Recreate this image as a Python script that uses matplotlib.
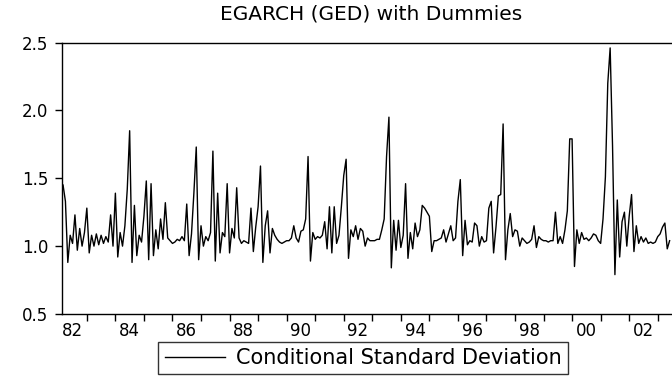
import numpy as np
import matplotlib
matplotlib.use('Agg')
import matplotlib.pyplot as plt

# Conditional standard deviation (monthly, from 1981:09)
sd_1981_1985 = [1.45, 1.33, 0.88, 1.08, 1.02, 1.23, 0.97, 1.13, 1.00, 1.10, 1.28, 0.95,
                1.08, 1.00, 1.09, 1.01, 1.08, 1.02, 1.07, 1.03, 1.23, 1.00, 1.39, 0.92,
                1.10, 1.00, 1.15, 1.42, 1.85, 0.88, 1.30, 0.93, 1.08, 1.03, 1.22, 1.48,
                0.90, 1.46, 0.93, 1.12, 0.98, 1.20, 1.05, 1.32, 1.06, 1.04, 1.02, 1.03]
sd_1985_1989 = [1.05, 1.04, 1.07, 1.04, 1.31, 0.93, 1.09, 1.39, 1.73, 0.90, 1.15, 1.00,
                1.07, 1.04, 1.10, 1.70, 0.89, 1.39, 0.95, 1.10, 1.07, 1.46, 0.95, 1.13,
                1.06, 1.43, 1.06, 1.02, 1.04, 1.03, 1.02, 1.28, 0.96, 1.14, 1.29, 1.59,
                0.88, 1.15, 1.26, 0.95, 1.13, 1.08, 1.05, 1.03, 1.02, 1.03, 1.04, 1.04]
sd_1989_1993 = [1.06, 1.15, 1.06, 1.03, 1.11, 1.12, 1.20, 1.66, 0.89, 1.10, 1.05, 1.07,
                1.06, 1.08, 1.18, 0.98, 1.29, 0.95, 1.29, 1.02, 1.08, 1.29, 1.52, 1.64,
                0.91, 1.12, 1.07, 1.15, 1.05, 1.13, 1.11, 1.00, 1.06, 1.04, 1.04, 1.04,
                1.05, 1.05, 1.12, 1.20, 1.66, 1.95, 0.84, 1.19, 0.97, 1.19, 0.99, 1.08]
sd_1993_1997 = [1.46, 0.91, 1.10, 0.98, 1.17, 1.07, 1.12, 1.30, 1.28, 1.25, 1.22, 0.96,
                1.04, 1.04, 1.05, 1.06, 1.12, 1.03, 1.09, 1.15, 1.04, 1.06, 1.33, 1.49,
                0.93, 1.19, 1.01, 1.04, 1.03, 1.17, 1.15, 1.00, 1.07, 1.03, 1.04, 1.28,
                1.33, 0.95, 1.14, 1.37, 1.38, 1.90, 0.90, 1.12, 1.24, 1.07, 1.12, 1.11]
sd_1997_2002 = [1.00, 1.06, 1.04, 1.02, 1.03, 1.05, 1.15, 0.99, 1.07, 1.05, 1.04, 1.04,
                1.03, 1.04, 1.04, 1.25, 1.02, 1.07, 1.02, 1.12, 1.26, 1.79, 1.79, 0.85,
                1.12, 1.02, 1.10, 1.05, 1.06, 1.04, 1.06, 1.09, 1.08, 1.04, 1.02, 1.20,
                1.51, 2.20, 2.46, 1.74, 0.79, 1.34, 0.92, 1.18, 1.25, 1.00, 1.22, 1.38,
                0.96, 1.15, 1.02, 1.07, 1.03, 1.06, 1.02, 1.03, 1.02, 1.03, 1.07, 1.09,
                1.14, 1.17, 0.98, 1.04]

cond_sd = np.array(sd_1981_1985 + sd_1985_1989 + sd_1989_1993 + sd_1993_1997 + sd_1997_2002)
dates = 1981 + 8 / 12 + np.arange(len(cond_sd)) / 12.0

label_years = np.arange(1982, 2003, 2)
year_labels = ['82', '84', '86', '88', '90', '92', '94', '96', '98', '00', '02']
y_ticks = [0.5, 1.0, 1.5, 2.0, 2.5]

plt.rcParams['font.family'] = 'DejaVu Sans'

W, H = 672, 381
fig = plt.figure(figsize=(W / 100, H / 100), dpi=100)
ax = fig.add_axes([62 / W, 1 - 314 / H, (674 - 62) / W, (314 - 42.5) / H])

ax.plot(dates, cond_sd, color='black', linewidth=1.0, label='Conditional Standard Deviation')

ax.set_xlim(1981.63, 2003.07)
ax.set_ylim(0.5, 2.5)
ax.set_yticks(y_ticks)
ax.set_yticklabels(['%.1f' % v for v in y_ticks])
ax.set_xticks(label_years)
ax.set_xticklabels(year_labels)
ax.set_xticks(np.arange(1982, 2003) + 0.5, minor=True)
ax.tick_params(axis='x', which='major', length=0, pad=6, labelsize=12)
ax.tick_params(axis='x', which='minor', length=5, width=1, direction='out')
ax.tick_params(axis='y', length=5, width=1, direction='out', pad=5, labelsize=12)
ax.spines['right'].set_visible(False)
for s in ['left', 'top', 'bottom']:
    ax.spines[s].set_linewidth(1.0)

fig.text(371 / W, 1 - 14 / H, 'EGARCH (GED) with Dummies', ha='center', va='center', fontsize=14.5)

leg = fig.legend(loc='center', bbox_to_anchor=(363 / W, 1 - 358 / H), fontsize=15,
                 frameon=True, fancybox=False, handlelength=2.9, handletextpad=0.5,
                 borderpad=0.3, borderaxespad=0)
leg.get_frame().set_edgecolor('black')
leg.get_frame().set_linewidth(1.0)

fig.savefig('out.png', dpi=100)
